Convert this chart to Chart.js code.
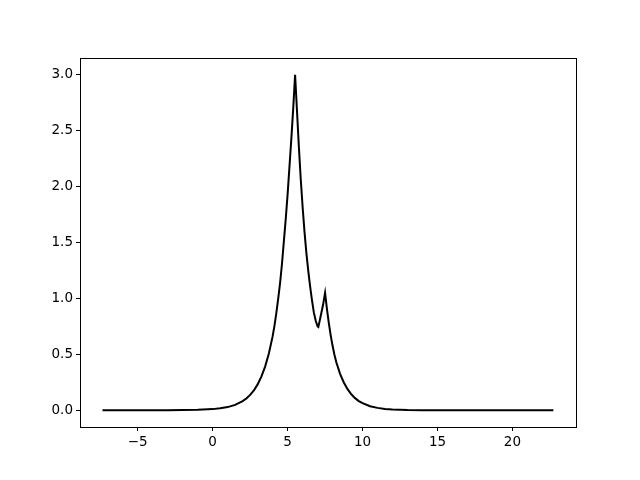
<!DOCTYPE html>
<html>
<head>
<meta charset="utf-8">
<script src="https://cdn.jsdelivr.net/npm/chart.js@4.4.0/dist/chart.umd.min.js"></script>
<style>
  html, body { margin: 0; padding: 0; background: #fff; }
</style>
</head>
<body>
<canvas id="myChart" width="640" height="480"></canvas>
<script>
// values
const xs = [-7.35, -5, -3, -2, -1, 0, 0.5, 1, 1.5, 2, 2.25, 2.5, 2.75, 3, 3.25, 3.5, 3.75,
            4, 4.125, 4.25, 4.375, 4.5, 4.625, 4.75, 4.875, 5, 5.125, 5.25, 5.375, 5.5,
            5.625, 5.75, 5.875, 6, 6.125, 6.25, 6.375, 6.5, 6.625, 6.75, 6.875, 7, 7.05,
            7.125, 7.25, 7.375, 7.5,
            7.625, 7.75, 7.875, 8, 8.125, 8.25, 8.5, 8.75, 9, 9.25, 9.5, 9.75, 10, 10.5,
            11, 11.5, 12, 13, 14, 15, 16, 18, 20, 22.73];
const ys = [0, 0.00005, 0.0004, 0.0012, 0.0035, 0.0099, 0.0167, 0.028, 0.048, 0.081, 0.105, 0.137, 0.177, 0.231, 0.30, 0.39, 0.507,
            0.66, 0.757, 0.87, 1.00, 1.14, 1.31, 1.51, 1.71, 1.93, 2.18, 2.43, 2.70, 3.0,
            2.68, 2.36, 2.07, 1.82, 1.60, 1.41, 1.25, 1.11, 0.985, 0.875, 0.80, 0.75, 0.745,
            0.79, 0.87, 0.95, 1.05,
            0.904, 0.778, 0.670, 0.576, 0.496, 0.429, 0.326, 0.248, 0.188, 0.143, 0.108, 0.082, 0.063, 0.036,
            0.021, 0.012, 0.0069, 0.0023, 0.0008, 0.0003, 0.0001, 0, 0, 0];

const xTicks = [-5, 0, 5, 10, 15, 20];
const yTicks = [0, 0.5, 1.0, 1.5, 2.0, 2.5, 3.0];

const points = xs.map((x, i) => ({ x: x, y: ys[i] }));

// matplotlib style full frame
const framePlugin = {
  id: 'frame',
  afterDraw(chart) {
    const a = chart.chartArea;
    const ctx = chart.ctx;
    ctx.save();
    ctx.strokeStyle = '#000';
    ctx.lineWidth = 1;
    ctx.strokeRect(Math.round(a.left) + 0.5, Math.round(a.top) + 0.5,
                   Math.round(a.right - a.left), Math.round(a.bottom - a.top));
    ctx.restore();
  }
};

const tickFont = { family: 'DejaVu Sans', size: 13.5 };

new Chart(document.getElementById('myChart'), {
  type: 'line',
  data: {
    datasets: [{
      data: points,
      borderColor: '#000',
      borderWidth: 2,
      pointRadius: 0,
      tension: 0,
      fill: false
    }]
  },
  options: {
    responsive: false,
    animation: false,
    layout: { padding: { top: 58, right: 64, left: 0, bottom: 0 } },
    plugins: { legend: { display: false }, tooltip: { enabled: false } },
    scales: {
      x: {
        type: 'linear',
        min: -8.85,
        max: 24.24,
        afterFit(scale) { scale.height = 53; },
        afterBuildTicks(scale) { scale.ticks = xTicks.map(v => ({ value: v })); },
        grid: { drawOnChartArea: false, color: '#000', tickLength: 4, tickWidth: 1 },
        border: { display: false },
        ticks: {
          color: '#000',
          font: tickFont,
          padding: 3,
          maxRotation: 0,
          callback: v => String(v).replace('-', '\u2212')
        }
      },
      y: {
        type: 'linear',
        min: -0.15,
        max: 3.15,
        afterFit(scale) { scale.width = 80; },
        afterBuildTicks(scale) { scale.ticks = yTicks.map(v => ({ value: v })); },
        grid: { drawOnChartArea: false, color: '#000', tickLength: 4, tickWidth: 1 },
        border: { display: false },
        ticks: {
          color: '#000',
          font: tickFont,
          padding: 3,
          callback: v => Number(v).toFixed(1)
        }
      }
    }
  },
  plugins: [framePlugin]
});
</script>
</body>
</html>
